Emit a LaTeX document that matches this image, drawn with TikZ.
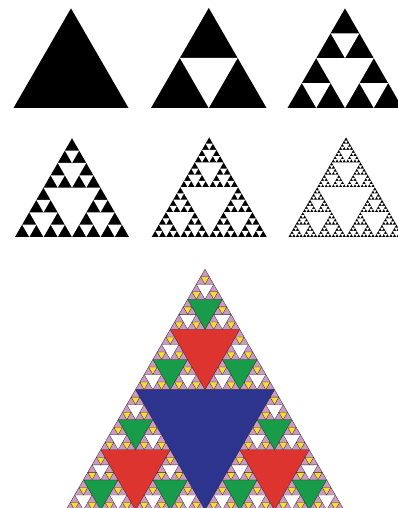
\documentclass[tikz,border=0pt]{standalone}
\usepackage{tikz}

\definecolor{sierpink}{RGB}{206,152,194}
\definecolor{sierblue}{RGB}{44,52,142}
\definecolor{sierred}{RGB}{222,52,48}
\definecolor{siergreen}{RGB}{24,156,74}
\definecolor{sieryellow}{RGB}{248,218,60}

\tikzset{
  outer/.style={fill=black},
  hole1/.style={fill=white},
  hole2/.style={fill=white},
  hole3/.style={fill=white},
  hole4/.style={fill=white},
  hole5/.style={fill=white},
  edge/.style={draw=black!85,line width=0.3pt},
}

% one level of holes in the unit triangle, then the three corners
\newcommand\sierstep[1]{%
  \ifnum#1>\sierdepth\relax\else
    \path[hole#1] (0.25,0.4330127) -- (0.75,0.4330127) -- (0.5,0) -- cycle;
    \edef\sierarg{\the\numexpr#1+1\relax}%
    \begin{scope}[scale=0.5]\expandafter\sierstep\expandafter{\sierarg}\end{scope}%
    \begin{scope}[shift={(0.5,0)},scale=0.5]\expandafter\sierstep\expandafter{\sierarg}\end{scope}%
    \begin{scope}[shift={(0.25,0.4330127)},scale=0.5]\expandafter\sierstep\expandafter{\sierarg}\end{scope}%
  \fi}

% #1,#2 lower left corner, #3 side, #4 depth
\newcommand\sierpinski[4]{%
  \begin{scope}[shift={(#1,#2)},scale=#3]
    \path[outer] (0,0) -- (1,0) -- (0.5,0.8660254) -- cycle;
    \def\sierdepth{#4}%
    \sierstep{1}%
  \end{scope}}

\begin{document}
\begin{tikzpicture}[x=1pt,y=1pt]
    \clip (0,0) rectangle (398,508);
    \fill[white] (0,0) rectangle (398,508);
    \sierpinski{13.5}{400}{115}{0}
    \sierpinski{151}{400}{115.5}{1}
    \sierpinski{287.5}{400}{115}{2}
    \sierpinski{15}{271}{114}{3}
    \sierpinski{151.7}{271}{115}{4}
    \sierpinski{288.5}{271}{115}{5}
    \begin{scope}[outer/.style={fill=sierpink,edge},
                  hole1/.style={fill=sierblue,edge},
                  hole2/.style={fill=sierred,edge},
                  hole3/.style={fill=siergreen,edge},
                  hole4/.style={fill=white,edge},
                  hole5/.style={fill=sieryellow,edge}]
      \sierpinski{66}{-2}{278}{5}
    \end{scope}
\end{tikzpicture}
\end{document}
